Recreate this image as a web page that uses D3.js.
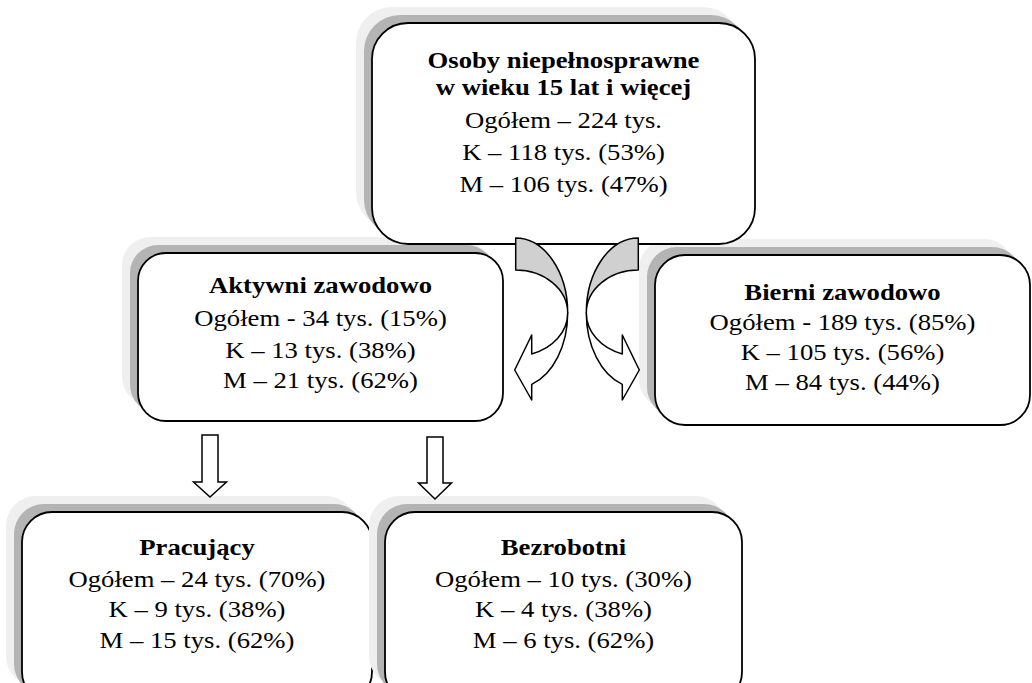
<!DOCTYPE html>
<html>
<head>
<meta charset="utf-8">
<script src="https://cdn.jsdelivr.net/npm/d3@7"></script>
<style>
    body { margin: 0; background: #fff; }
    svg { display: block; }
    .box text { font-family: "Liberation Serif", "Times New Roman", serif; font-size: 23px; fill: #000; }
    .box .title { font-weight: bold; }
</style>
</head>
<body>
<script>
//data of the diagram
var titles = [
    ["Osoby niepełnosprawne", "w wieku 15 lat i więcej"],
    ["Aktywni zawodowo"],
    ["Bierni zawodowo"],
    ["Pracujący"],
    ["Bezrobotni"]
];
var totals = [224, 34, 189, 24, 10];        //tys.
var totalShares = [null, 15, 85, 70, 30];    //% of parent
var women = [118, 13, 105, 9, 4];
var womenShares = [53, 38, 56, 38, 38];
var men = [106, 21, 84, 15, 6];
var menShares = [47, 62, 44, 62, 62];
var totalDash = ["–", "-", "-", "–", "–"];

//layout of boxes (x, y, w, h, corner radius, baselines of lines)
var layout = [
    {x: 372, y: 23,  w: 383, h: 221, r: 36, lines: [45, 72, 105, 137, 169]},
    {x: 138, y: 253, w: 365, h: 168, r: 28, lines: [40, 73, 105, 135]},
    {x: 655, y: 255, w: 375, h: 170, r: 30, lines: [45, 75, 105, 135]},
    {x: 22,  y: 512, w: 350, h: 190, r: 30, lines: [43, 75, 105, 136]},
    {x: 385, y: 512, w: 357, h: 190, r: 30, lines: [43, 75, 105, 136]}
];

//build text lines of every box
var boxes = titles.map(function(t, i){
    var lines = t.map(function(s){ return {text: s, bold: true}; });
    var tot = "Ogółem " + totalDash[i] + " " + totals[i] + " tys.";
    if (totalShares[i] != null) tot += " (" + totalShares[i] + "%)";
    lines.push({text: tot});
    lines.push({text: "K – " + women[i] + " tys. (" + womenShares[i] + "%)"});
    lines.push({text: "M – " + men[i] + " tys. (" + menShares[i] + "%)"});
    return {lines: lines, geo: layout[i]};
});

var width = 1032, height = 683;

var svg = d3.select("body")
    .append("svg")
    .attr("width", width)
    .attr("height", height);

//lower boxes first, the top box last so it covers their shadows
var order = [3, 4, 1, 2, 0];

var g = svg.selectAll(".box")
    .data(order.map(function(i){ return boxes[i]; }))
    .enter()
    .append("g")
    .attr("class", "box")
    .attr("transform", function(d){ return "translate(" + d.geo.x + "," + d.geo.y + ")"; });

//shadow layers
g.append("rect")
    .attr("x", -16).attr("y", -16)
    .attr("width", function(d){ return d.geo.w; })
    .attr("height", function(d){ return d.geo.h; })
    .attr("rx", function(d){ return d.geo.r; })
    .attr("fill", "#efefef");

g.append("rect")
    .attr("x", -8).attr("y", -8)
    .attr("width", function(d){ return d.geo.w; })
    .attr("height", function(d){ return d.geo.h; })
    .attr("rx", function(d){ return d.geo.r; })
    .attr("fill", "#b4b4b4");

g.append("rect")
    .attr("width", function(d){ return d.geo.w; })
    .attr("height", function(d){ return d.geo.h; })
    .attr("rx", function(d){ return d.geo.r; })
    .attr("fill", "#fff")
    .attr("stroke", "#000")
    .attr("stroke-width", 1.8);

//text is a little stretched sideways in the original
g.selectAll("text")
    .data(function(d){
        return d.lines.map(function(l, j){
            return {text: l.text, bold: l.bold, x: d.geo.w / 2, y: d.geo.lines[j]};
        });
    })
    .enter()
    .append("text")
    .attr("class", function(d){ return d.bold ? "title" : null; })
    .attr("transform", function(d){ return "translate(" + d.x + "," + d.y + ") scale(1.16,1)"; })
    .attr("text-anchor", "middle")
    .text(function(d){ return d.text; });

//curved arrows from the top box (left one, right one mirrored)
var curve = {cx: 515.7, top: 238, mid: 313, rx: 52, ryOut: 75, ryIn: 43,
             end: 531.7, barbUp: 335, barbDown: 400, tipY: 370};

function curvedArrow(mirror){
    var c = curve;
    var fx = function(x){ return mirror ? 1154 - x : x; };
    var sw = mirror ? 0 : 1, sw2 = mirror ? 1 : 0;
    var right = c.cx + c.rx;
    var k = Math.sqrt(1 - Math.pow((c.end - c.cx) / c.rx, 2));
    var yOut = c.mid + c.ryOut * k, yIn = c.mid + c.ryIn * k;
    var back = "M" + fx(c.cx) + "," + c.top +
        "A" + c.rx + "," + c.ryOut + " 0 0 " + sw + " " + fx(right) + "," + c.mid +
        "A" + c.rx + "," + c.ryIn + " 0 0 " + sw2 + " " + fx(c.cx) + "," + (c.mid - c.ryIn) + "Z";
    var front = "M" + fx(right) + "," + c.mid +
        "A" + c.rx + "," + c.ryOut + " 0 0 " + sw + " " + fx(c.end) + "," + yOut +
        "L" + fx(c.end) + "," + c.barbDown +
        "L" + fx(c.cx - 1) + "," + c.tipY +
        "L" + fx(c.end) + "," + c.barbUp +
        "L" + fx(c.end) + "," + yIn +
        "A" + c.rx + "," + c.ryIn + " 0 0 " + sw2 + " " + fx(right) + "," + c.mid + "Z";
    return [back, front];
}

[false, true].forEach(function(m){
    var p = curvedArrow(m);
    svg.append("path").attr("d", p[0]).attr("fill", "#d0d0d0")
        .attr("stroke", "#000").attr("stroke-width", 1.5).attr("stroke-linejoin", "round");
    svg.append("path").attr("d", p[1]).attr("fill", "#fff")
        .attr("stroke", "#000").attr("stroke-width", 1.5).attr("stroke-linejoin", "round");
});

//straight arrows down to the lower boxes
var downArrows = [
    {cx: 210, top: 435, head: 482, tip: 497},
    {cx: 435, top: 437, head: 483, tip: 499}
];

svg.selectAll(".down")
    .data(downArrows)
    .enter()
    .append("path")
    .attr("class", "down")
    .attr("d", function(d){
        return "M" + (d.cx - 8) + "," + d.top + "H" + (d.cx + 8) + "V" + d.head +
            "H" + (d.cx + 16.5) + "L" + d.cx + "," + d.tip + "L" + (d.cx - 16.5) + "," + d.head +
            "H" + (d.cx - 8) + "Z";
    })
    .attr("fill", "#fff")
    .attr("stroke", "#000")
    .attr("stroke-width", 1.5);
</script>
</body>
</html>
